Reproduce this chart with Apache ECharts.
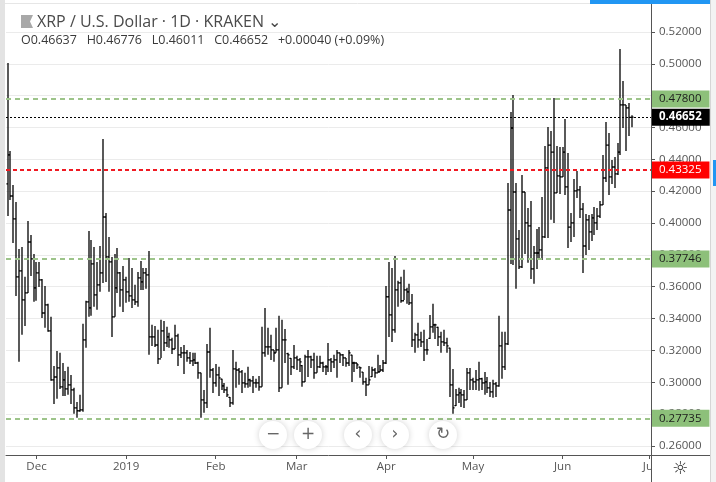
<!DOCTYPE html>
<html><head><meta charset="utf-8">
<script src="https://cdn.jsdelivr.net/npm/echarts@6/dist/echarts.min.js"></script>
<style>html,body{margin:0;padding:0;background:#fff}#c{width:716px;height:482px}</style>
</head><body><div id="c"></div>
<script>
// ---- data (daily bars, first bar 2018-11-21) ----
const startDate = [2018, 10, 21];
const opens = [
.4246,.4428,.4170,.4026,.3662,.3699,.3517,.3561,.3881,.3775,
.3593,.3687,.3643,.3435,.3486,.3323,.3015,.3033,.3090,.2971,
.3015,.2958,.2984,.2952,.2839,.2821,.2826,.3266,.3505,.3467,
.3743,.3549,.3612,.3687,.4038,.3787,.3756,.3411,.3593,.3687,
.3580,.3643,.3568,.3542,.3517,.3505,.3656,.3630,.3687,.3674,
.3285,.3285,.3234,.3147,.3323,.3247,.3285,.3266,.3209,.3291,
.3172,.3185,.3185,.3153,.3134,.3140,.3121,.3059,.2889,.2870,
.3190,.3077,.2996,.3046,.3020,.2977,.2952,.2905,.2870,.3084,
.3077,.3065,.2996,.2990,.3015,.3009,.2996,.2996,.2971,.3185,
.3222,.3222,.3203,.3185,.3203,.2965,.3266,.3180,.3150,.3097,
.3153,.3140,.3105,.3002,.3160,.3160,.3140,.3059,.3097,.3121,
.3097,.3097,.3140,.3128,.3140,.3185,.3172,.3153,.3121,.3170,
.3121,.3121,.3095,.3063,.3002,.2984,.3035,.3077,.3059,.3065,
.3077,.3121,.3537,.3423,.3329,.3580,.3624,.3512,.3580,.3568,
.3499,.3266,.3298,.3266,.3253,.3203,.3275,.3348,.3361,.3345,
.3285,.3253,.3247,.3214,.2984,.2853,.2921,.2933,.2921,.2889,
.3059,.3015,.3002,.3015,.3022,.2996,.3002,.2965,.2939,.2990,
.2977,.3228,.3097,.3241,.4082,.4597,.4195,.3900,.3725,.4195,
.4001,.3982,.3712,.3812,.3812,.3831,.3913,.4346,.4490,.4446,
.4189,.4296,.4290,.4446,.4227,.3975,.4001,.4202,.4208,.4088,
.3856,.4020,.3944,.4032,.4001,.4044,.4114,.4283,.4490,.4290,
.4352,.4309,.4446,.4742,.4742,.4723,.46637];
const highs = [
.5005,.4453,.4239,.4133,.3837,.3850,.3662,.4013,.3925,.3806,
.3756,.3756,.3649,.3605,.3493,.3411,.3102,.3197,.3185,.3121,
.3071,.3097,.3046,.2965,.2876,.2921,.3367,.3512,.3950,.3894,
.3850,.3756,.3856,.4528,.4063,.3913,.3787,.3806,.3844,.3693,
.3731,.3662,.3781,.3718,.3612,.3693,.3762,.3718,.3718,.3825,
.3361,.3354,.3329,.3392,.3385,.3348,.3311,.3279,.3361,.3304,
.3222,.3234,.3203,.3190,.3185,.3185,.3128,.3059,.2952,.3241,
.3342,.3090,.3115,.3097,.3022,.2996,.2971,.2908,.3203,.3128,
.3090,.3077,.3059,.3097,.3022,.3040,.3022,.3040,.3348,.3467,
.3342,.3298,.3203,.3342,.3417,.3392,.3335,.3185,.3153,.3234,
.3166,.3153,.3109,.3172,.3203,.3166,.3185,.3166,.3166,.3128,
.3109,.3247,.3153,.3172,.3203,.3185,.3178,.3153,.3203,.3172,
.3128,.3121,.3097,.3065,.3028,.3102,.3097,.3090,.3172,.3109,
.3140,.3605,.3756,.3718,.3793,.3637,.3662,.3706,.3593,.3618,
.3555,.3311,.3373,.3317,.3329,.3272,.3423,.3493,.3367,.3348,
.3317,.3329,.3279,.3216,.3084,.2958,.2965,.2958,.2952,.3090,
.3090,.3028,.3077,.3128,.3028,.3065,.3033,.3002,.3015,.3002,
.3417,.3317,.3317,.4252,.4698,.4804,.4252,.3957,.4302,.4195,
.4095,.4139,.3856,.3963,.3975,.4164,.4484,.4603,.4578,.4786,
.4484,.4478,.4478,.4654,.4440,.4063,.4277,.4327,.4233,.4126,
.4057,.4051,.4057,.4101,.4095,.4139,.4428,.4635,.4566,.4396,
.4415,.4503,.5093,.4892,.4742,.4754,.46776];
const lows = [
.4044,.4145,.3875,.3542,.3128,.3298,.3354,.3561,.3668,.3505,
.3512,.3599,.3404,.3342,.3317,.3009,.2864,.2896,.2958,.2914,
.2914,.2921,.2864,.2802,.2777,.2814,.2814,.3216,.3411,.3417,
.3474,.3455,.3568,.3624,.3630,.3568,.3285,.3411,.3561,.3474,
.3442,.3499,.3505,.3467,.3486,.3474,.3580,.3580,.3587,.3172,
.3228,.3222,.3115,.3153,.3197,.3222,.3216,.3178,.3209,.3102,
.3153,.3052,.3128,.3115,.3102,.3115,.3022,.2777,.2808,.2839,
.3028,.2933,.2971,.2914,.2952,.2933,.2908,.2845,.2858,.2965,
.2984,.2933,.2965,.2965,.2971,.2933,.2965,.2946,.2971,.3160,
.3172,.3140,.3128,.3185,.2939,.2965,.3121,.2984,.3046,.3084,
.3077,.3065,.2971,.3002,.3033,.3090,.3022,.3059,.3090,.3065,
.3046,.3065,.3065,.3090,.3028,.3121,.3102,.3097,.3102,.3002,
.3065,.3084,.3028,.2984,.2914,.2984,.3033,.3028,.3059,.3065,
.3065,.3115,.3285,.3253,.3311,.3474,.3499,.3517,.3493,.3486,
.3222,.3185,.3216,.3222,.3134,.3172,.3272,.3311,.3272,.3228,
.3185,.3228,.3185,.2908,.2802,.2851,.2870,.2845,.2839,.2889,
.2952,.2952,.2952,.2946,.2952,.2921,.2933,.2908,.2902,.2908,
.2971,.3022,.3077,.3234,.3743,.3737,.3587,.3712,.3718,.3806,
.3750,.3649,.3618,.3712,.3768,.3768,.3906,.3906,.4020,.4001,
.4189,.4183,.4290,.4177,.3844,.3881,.3913,.4158,.4032,.3687,
.3800,.3831,.3888,.3925,.3957,.4032,.4114,.4258,.4177,.4246,
.4220,.4302,.4428,.4597,.4453,.4547,.46011];
const closes = [
.4428,.4170,.4026,.3662,.3699,.3517,.3561,.3881,.3775,.3593,
.3687,.3643,.3435,.3486,.3323,.3015,.3033,.3090,.2971,.3015,
.2958,.2984,.2952,.2839,.2821,.2826,.3266,.3505,.3467,.3743,
.3549,.3612,.3687,.4038,.3787,.3756,.3411,.3593,.3687,.3580,
.3643,.3568,.3542,.3517,.3505,.3656,.3630,.3687,.3674,.3285,
.3285,.3234,.3147,.3323,.3247,.3285,.3266,.3209,.3291,.3172,
.3185,.3185,.3153,.3134,.3140,.3121,.3059,.2889,.2870,.3190,
.3077,.2996,.3046,.3028,.2977,.2952,.2921,.2870,.3084,.3077,
.3065,.2996,.2990,.3015,.3009,.2996,.2996,.2971,.3185,.3222,
.3222,.3203,.3185,.3203,.2965,.3266,.3266,.3172,.3097,.3153,
.3140,.3128,.3002,.3160,.3160,.3140,.3059,.3097,.3121,.3097,
.3097,.3140,.3128,.3140,.3185,.3172,.3153,.3121,.3185,.3121,
.3121,.3109,.3090,.3002,.2984,.3015,.3077,.3059,.3065,.3077,
.3121,.3537,.3423,.3329,.3580,.3624,.3512,.3580,.3568,.3499,
.3266,.3298,.3266,.3253,.3203,.3203,.3348,.3361,.3361,.3285,
.3253,.3247,.3228,.2984,.2839,.2921,.2933,.2921,.2889,.3059,
.3015,.3002,.3015,.3022,.2996,.3002,.2965,.2939,.2990,.2977,
.3228,.3097,.3241,.4082,.4597,.4195,.3900,.3725,.4195,.4001,
.3982,.3712,.3812,.3812,.3831,.3913,.4346,.4490,.4446,.4189,
.4296,.4290,.4446,.4227,.3975,.4001,.4202,.4208,.4088,.3856,
.4020,.3944,.4032,.4001,.4044,.4114,.4283,.4490,.4290,.4352,
.4309,.4446,.4742,.4742,.4723,.46637,.46652];
const priceTicks = [0.26,0.28,0.30,0.32,0.34,0.36,0.38,0.40,0.42,0.44,0.46,0.48,0.50,0.52];
const greenLevels = [0.47800, 0.37746, 0.27735];
const redLevel = 0.43325;
const lastPrice = 0.46652;
const monthNames = ['Jan','Feb','Mar','Apr','May','Jun','Jul','Aug','Sep','Oct','Nov','Dec'];
const titleText = 'XRP / U.S. Dollar · 1D · KRAKEN';
const ohlcText = 'O0.46637   H0.46776   L0.46011   C0.46652   +0.00040 (+0.09%)';

// ---- build ----
const FONT = 'Open Sans';
const bars = opens.map((o, i) => [
  new Date(startDate[0], startDate[1], startDate[2] + i).getTime(), o, highs[i], lows[i], closes[i]
]);
const xMin = new Date(2018, 10, 20, 10, 48).getTime();
const xMax = new Date(2019, 6, 1, 13, 55).getTime();

function renderOHLC(params, api) {
  const t = api.value(0);
  const o = api.coord([t, api.value(1)]);
  const h = api.coord([t, api.value(2)]);
  const l = api.coord([t, api.value(3)]);
  const c = api.coord([t, api.value(4)]);
  const x = Math.round(h[0]);
  const st = { stroke: '#000', lineWidth: 1.3 };
  return {
    type: 'group',
    children: [
      { type: 'line', shape: { x1: x, y1: h[1], x2: x, y2: l[1] }, style: st },
      { type: 'line', shape: { x1: x - 1.6, y1: o[1], x2: x, y2: o[1] }, style: st },
      { type: 'line', shape: { x1: x, y1: c[1], x2: x + 1.6, y2: c[1] }, style: st }
    ]
  };
}

const levelLines = [].concat(
  greenLevels.map(v => ({
    yAxis: v,
    lineStyle: { color: '#9dc48a', type: [5, 4], width: 2 },
    label: { backgroundColor: '#8dc07a', color: '#1c1c1c' }
  })),
  [{
    yAxis: redLevel,
    lineStyle: { color: '#f01a22', type: [4, 3], width: 2 },
    label: { backgroundColor: '#ff0000', color: '#ffffff' }
  }, {
    yAxis: lastPrice,
    lineStyle: { color: '#000000', type: [2, 2], width: 1 },
    label: { backgroundColor: '#000000', color: '#ffffff', fontWeight: 'bold' }
  }]
);

const chart = echarts.init(document.getElementById('c'), null, { renderer: 'canvas' });
const navBtns = [
  { cx: 273, t: '−' }, { cx: 308, t: '+' }, { cx: 358, t: '‹' }, { cx: 395, t: '›' }, { cx: 443, t: '↻' }
];
const graphics = [
  { type: 'rect', shape: { x: 0, y: 0, width: 5, height: 482 }, style: { fill: '#e3e3e3' }, z: 100 },
  { type: 'line', shape: { x1: 5, y1: 3.5, x2: 710, y2: 3.5 }, style: { stroke: '#e6e6e6', lineWidth: 1 }, z: 100 },
  { type: 'rect', shape: { x: 590, y: 0, width: 120, height: 4 }, style: { fill: '#2196f3' }, z: 100 },
  { type: 'rect', shape: { x: 710, y: 0, width: 6, height: 482 }, style: { fill: '#f3f3f3' }, z: 100 },
  { type: 'line', shape: { x1: 710.5, y1: 0, x2: 710.5, y2: 482 }, style: { stroke: '#d6d6d6', lineWidth: 1 }, z: 100 },
  { type: 'rect', shape: { x: 713, y: 160, width: 3, height: 26 }, style: { fill: '#2196f3' }, z: 101 },
  { type: 'rect', shape: { x: 652, y: 456, width: 58, height: 26 }, style: { fill: '#ffffff' }, z: 100 },
  { type: 'line', shape: { x1: 651.5, y1: 455, x2: 651.5, y2: 482 }, style: { stroke: '#555', lineWidth: 1 }, z: 101 },
  { type: 'line', shape: { x1: 651, y1: 455.5, x2: 710, y2: 455.5 }, style: { stroke: '#555', lineWidth: 1 }, z: 101 },
  { type: 'text', x: 680, y: 469, style: { text: '☼', font: '18px DejaVu Sans', fill: '#333', align: 'center', verticalAlign: 'middle' }, z: 102 },
  { type: 'polygon', shape: { points: [[21, 15], [33, 15], [30, 21.5], [33, 28], [21, 28]] }, style: { fill: '#a8a8a8' }, z: 100 },
  { type: 'text', x: 37, y: 22, style: { text: titleText + ' ⌄', font: '16px "' + FONT + '"', fill: '#4a4a4a', verticalAlign: 'middle' }, z: 100 },
  { type: 'text', x: 21, y: 40, style: { text: ohlcText, font: '12.5px "' + FONT + '"', fill: '#3a3a3a', verticalAlign: 'middle' }, z: 100 }
];
navBtns.forEach(b => {
  graphics.push({ type: 'circle', shape: { cx: b.cx, cy: 435, r: 14 }, style: { fill: '#fff', shadowBlur: 6, shadowColor: 'rgba(0,0,0,0.18)' }, z: 100 });
  graphics.push({ type: 'text', x: b.cx, y: 435, style: { text: b.t, font: '17px "DejaVu Sans"', fill: '#666', align: 'center', verticalAlign: 'middle' }, z: 101 });
});

chart.setOption({
  animation: false,
  backgroundColor: '#ffffff',
  grid: { left: 6, right: 65, top: 4, bottom: 27 },
  xAxis: {
    type: 'time',
    min: xMin, max: xMax,
    minInterval: 30 * 86400000, maxInterval: 30 * 86400000,
    axisLine: { lineStyle: { color: '#555', width: 1 } },
    axisTick: { show: true, length: 4, lineStyle: { color: '#555' } },
    splitLine: { show: false },
    axisLabel: {
      color: '#555', fontFamily: FONT, fontSize: 11.5, margin: 6,
      hideOverlap: false,
      formatter: function (v) {
        const d = new Date(v);
        return d.getMonth() === 0 ? String(d.getFullYear()) : monthNames[d.getMonth()];
      }
    }
  },
  yAxis: {
    type: 'value', position: 'right',
    min: 0.2543, max: 0.5376,
    axisLine: { show: true, lineStyle: { color: '#555', width: 1 } },
    axisTick: { show: true, length: 4, lineStyle: { color: '#555' }, customValues: priceTicks },
    splitLine: { show: true, lineStyle: { color: '#ebebeb', width: 1 } },
    axisLabel: {
      customValues: priceTicks,
      color: '#555', fontFamily: FONT, fontSize: 11.5, margin: 8,
      formatter: v => v.toFixed(5)
    }
  },
  series: [
    {
      type: 'line', data: [], z: 1, silent: true,
      markLine: {
        symbol: ['none', 'none'], silent: true, animation: false,
        precision: 5,
        label: {
          show: true, position: 'end', distance: 1,
          formatter: p => Number(p.value).toFixed(5),
          fontFamily: FONT, fontSize: 11.5, padding: [3, 8, 2, 7]
        },
        data: levelLines
      }
    },
    {
      type: 'custom', z: 3, data: bars, renderItem: renderOHLC,
      encode: { x: 0, y: [1, 2, 3, 4] }
    }
  ],
  graphic: graphics
});
</script></body></html>
